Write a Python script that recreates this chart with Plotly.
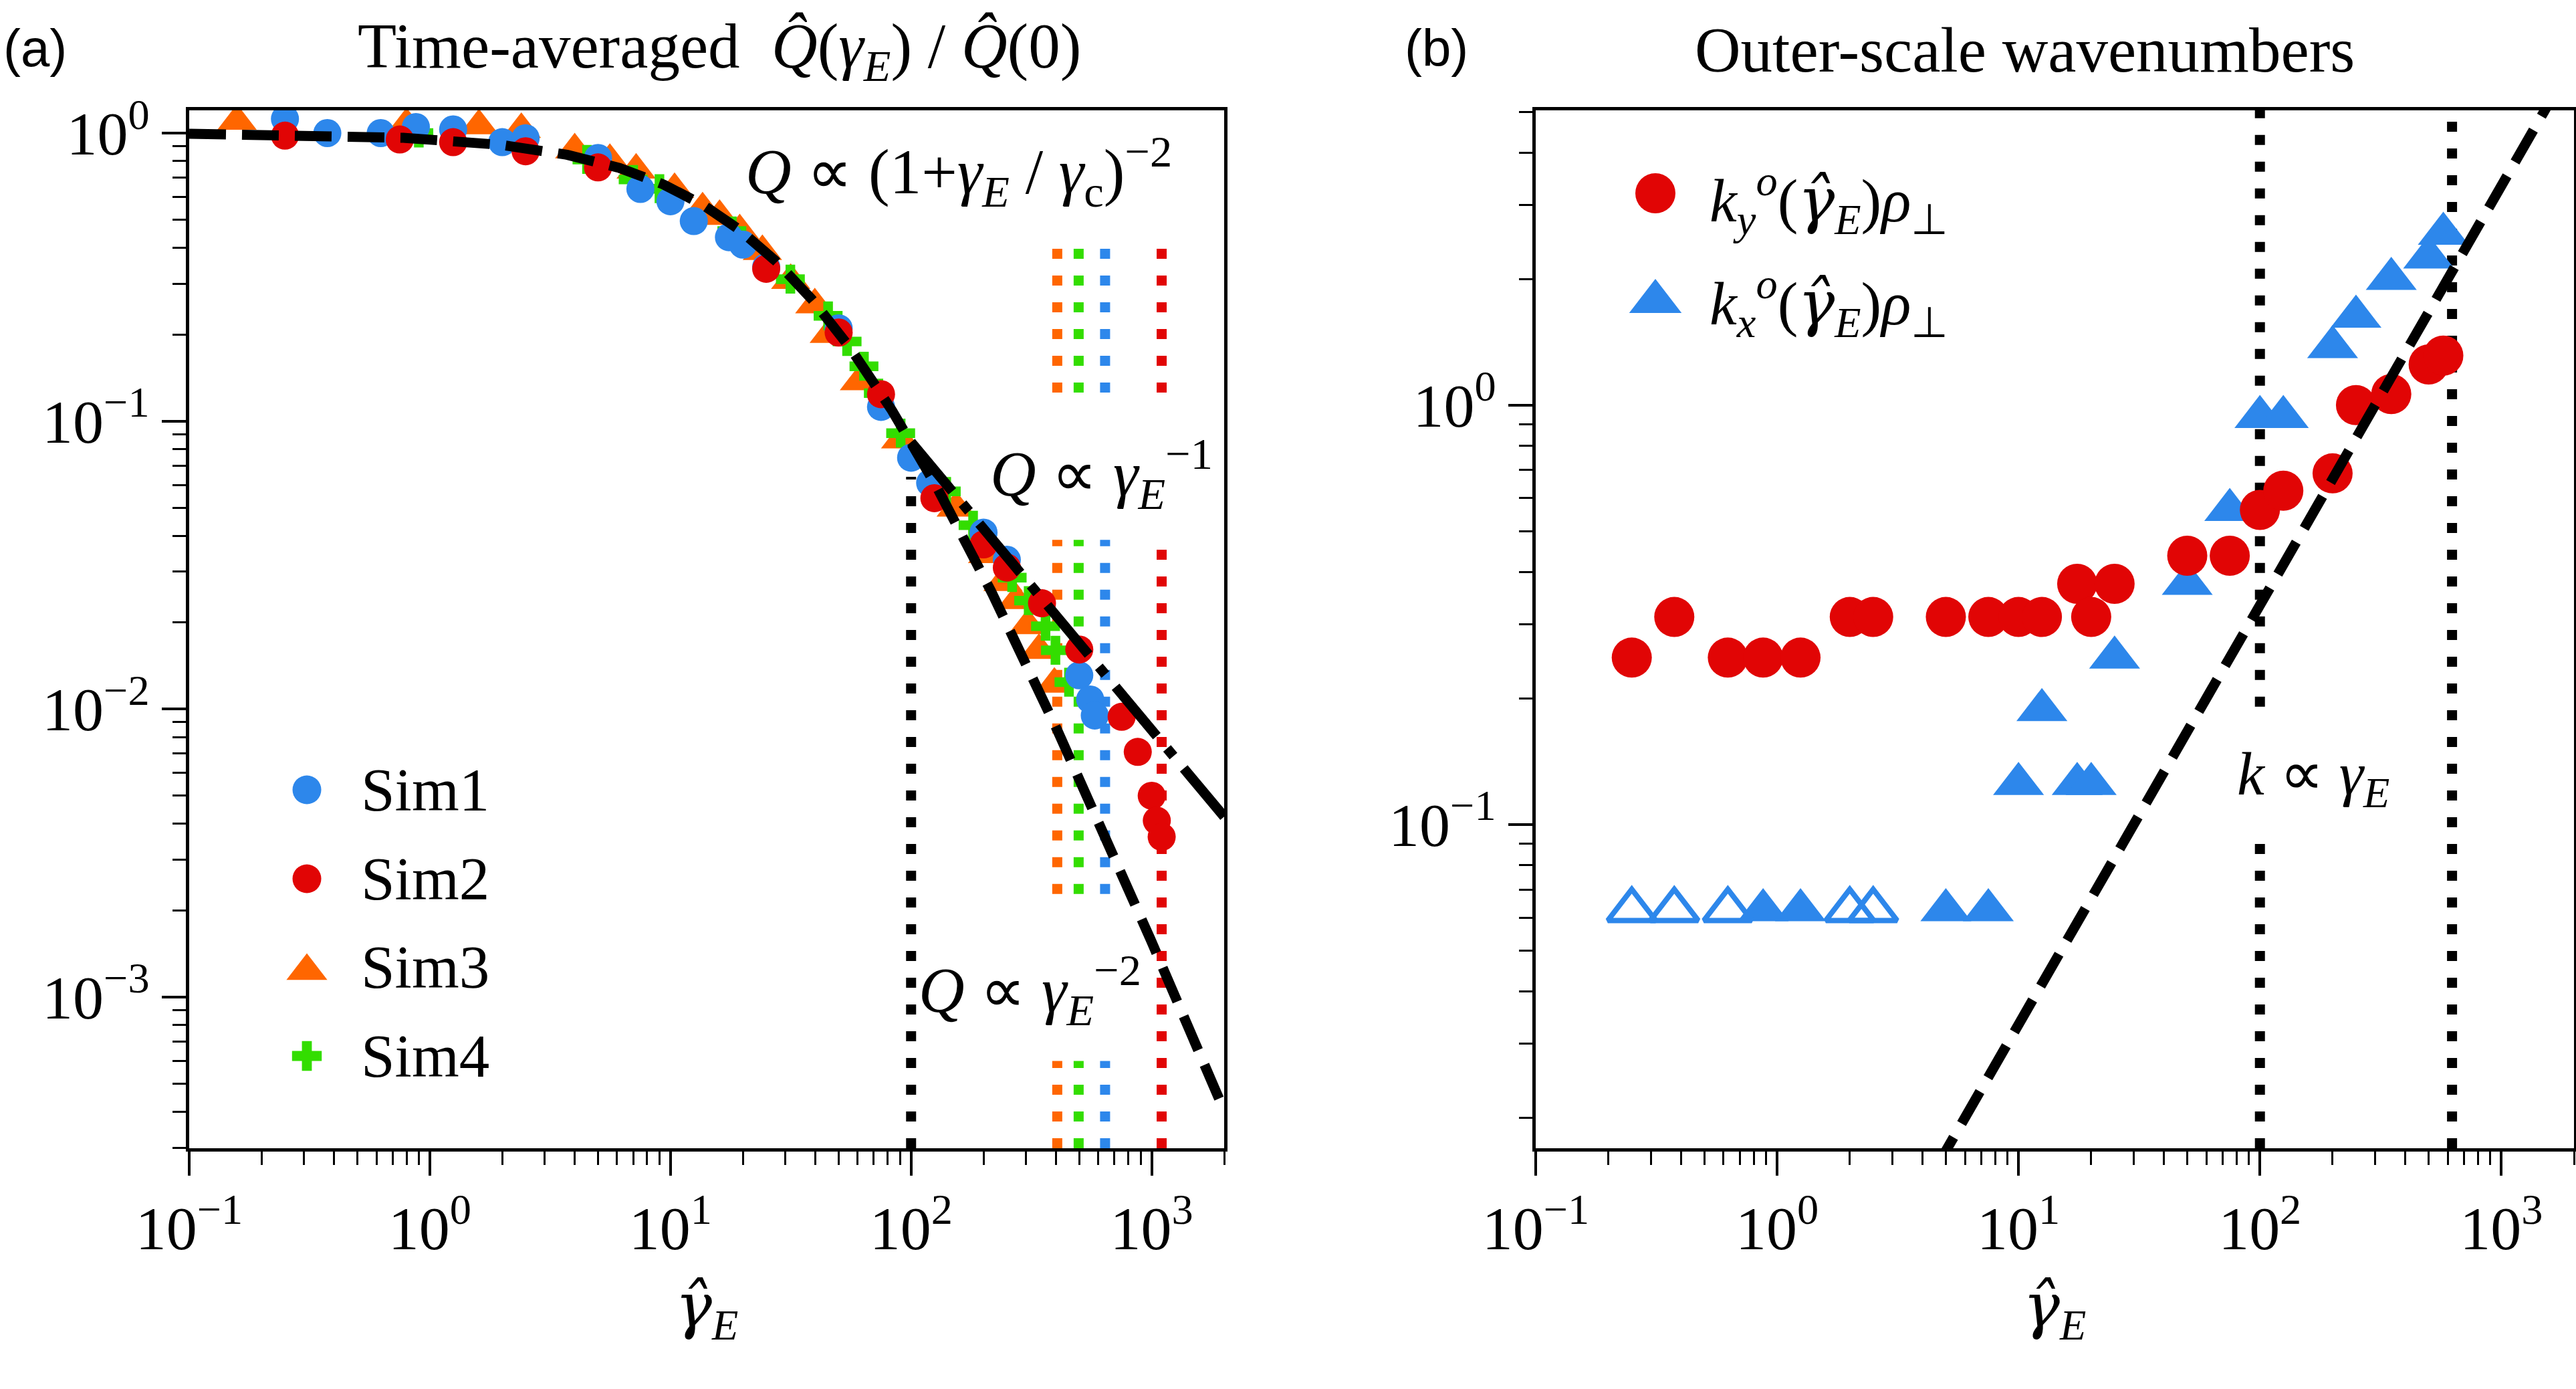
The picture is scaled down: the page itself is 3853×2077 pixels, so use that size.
import numpy as np
import plotly.graph_objects as go

W, H = 3853, 2077

# ---------------- panel (a): time-averaged Q(gamma_E)/Q(0) ----------------
sim1_gamma = [0.25, 0.375, 0.625, 0.875, 1.25, 2.0, 2.5, 5.0, 7.5, 10, 12.5, 17.5, 20, 25,
              50, 75, 100, 120, 200, 250, 500, 555, 580]
sim1_q = [1.12, 1.0, 1.0, 1.05, 1.03, 0.93, 0.96, 0.82, 0.64, 0.58, 0.495, 0.435, 0.41, 0.343,
          0.21, 0.112, 0.0746, 0.061, 0.041, 0.033, 0.0131, 0.0108, 0.0095]

sim2_gamma = [0.25, 0.75, 1.25, 2.5, 5.0, 25, 50, 75, 125, 200, 250, 350, 500, 750, 875,
              1000, 1050, 1100]
sim2_q = [0.98, 0.95, 0.93, 0.865, 0.76, 0.338, 0.203, 0.124, 0.054, 0.0373, 0.031, 0.0233,
          0.0161, 0.0094, 0.0071, 0.0050, 0.0041, 0.0036]

sim3_gamma = [0.158, 0.8, 1.6, 2.4, 4.0, 5.6, 7.2, 10.4, 13.6, 16.0, 19.4, 24.1, 31.6, 39.8,
              45.7, 61, 90.5, 154, 208, 241, 274, 306, 340, 394]
sim3_q = [1.10, 1.07, 1.06, 1.03, 0.875, 0.804, 0.744, 0.637, 0.546, 0.514, 0.458, 0.388,
          0.308, 0.2535, 0.20, 0.137, 0.086, 0.0499, 0.0344, 0.0275, 0.0238, 0.0195, 0.016,
          0.0122]

sim4_gamma = [0.9, 4.5, 7.0, 9.0, 18, 31.5, 45.2, 54.2, 63.7, 73.1, 90.5, 140, 181, 263, 308,
              362, 398, 453]
sim4_q = [1.0, 0.81, 0.69, 0.641, 0.457, 0.311, 0.232, 0.189, 0.155, 0.125, 0.0908, 0.057,
          0.0435, 0.0286, 0.0238, 0.0194, 0.016, 0.0124]

# model curves: Q ~ (1+g/gc)^-2 and Q ~ g^-1 beyond the break
gamma_c = 41.0
gamma_break = 100.0
gamma_max_a = 2000.0
# per-simulation critical shear (dotted verticals): Sim3, Sim4, Sim1, Sim2
gamma_crit = [405, 497, 640, 1100]
# visible spans of the coloured verticals (Q values)
span_top = (0.446, 0.1256)
span_mid = (0.0387, 0.00228)
span_bot = (6.0e-4, None)
black_line_top = 0.064

# ---------------- panel (b): outer-scale wavenumbers ----------------
gamma_b = [0.25, 0.375, 0.625, 0.875, 1.25, 2.0, 2.5, 5.0, 7.5, 10, 12.5, 17.5, 20, 25, 50,
           75, 100, 125, 200, 250, 350, 500, 575]
ky = [0.25, 0.3125, 0.25, 0.25, 0.25, 0.3125, 0.3125, 0.3125, 0.3125, 0.3125, 0.3125, 0.375,
      0.3125, 0.375, 0.4375, 0.4375, 0.5625, 0.625, 0.6875, 1.0, 1.0625, 1.25, 1.3125]
kx = [0.0625, 0.0625, 0.0625, 0.0625, 0.0625, 0.0625, 0.0625, 0.0625, 0.0625, 0.125, 0.1875,
      0.125, 0.125, 0.25, 0.375, 0.5625, 0.9375, 0.9375, 1.375, 1.625, 2.0, 2.25, 2.5625]
kx_unresolved = [1, 1, 1, 0, 0, 1, 1, 0, 0, 0, 0, 0, 0, 0, 0, 0, 0, 0, 0, 0, 0, 0, 0]
k_coeff = 1.0 / 300.0
gamma_lines_b = [100, 625]
gap_b = (0.0919, 0.191)

# ---------------- style ----------------
C_BLUE = "#2D87EB"
C_RED = "#E10505"
C_ORANGE = "#FF6600"
C_GREEN = "#33DD00"
SERIF = "Liberation Serif"
SANS = "Liberation Sans"
FS = 92
FS_TITLE = 95
LW = 15
DASH = "55px,24px"
DASHDOT = "96px,24px,15px,24px"
DOT = "15px,25px"
GHAT = "<span style='font-family:DejaVu Serif'><i>γ̂</i></span>"

XR = [-1, np.log10(2000)]
YRA = [-3.525, 0.079]
YRB = [-1.772, 0.703]
PA = (283, 1831)
PB = (2297, 3850)
PY = (165, 1717)

fig = go.Figure()

# ---- panel (a) dotted verticals (below markers)
ymin_a = 10 ** YRA[0]
ymax_b = 10 ** YRB[1]
ymin_b = 10 ** YRB[0]
cols_crit = [C_ORANGE, C_GREEN, C_BLUE, C_RED]
for g, c in zip(gamma_crit, cols_crit):
    if c == C_RED:
        spans = [span_top, (span_mid[0], ymin_a)]
    else:
        spans = [span_top, span_mid, (span_bot[0], ymin_a)]
    xs, ys = [], []
    for (y0, y1) in spans:
        xs += [g, g, None]
        ys += [y1, y0, None]
    fig.add_trace(go.Scatter(x=xs, y=ys, mode="lines", xaxis="x", yaxis="y",
                             line=dict(color=c, width=LW, dash=DOT), hoverinfo="skip"))
fig.add_trace(go.Scatter(x=[gamma_break, gamma_break], y=[ymin_a, black_line_top], mode="lines",
                         xaxis="x", yaxis="y", line=dict(color="black", width=LW, dash=DOT)))

# ---- panel (a) markers
fig.add_trace(go.Scatter(x=sim3_gamma, y=sim3_q, mode="markers", xaxis="x", yaxis="y",
                         marker=dict(symbol="triangle-up", size=51, color=C_ORANGE, line=dict(width=0))))
fig.add_trace(go.Scatter(x=sim4_gamma, y=sim4_q, mode="markers", xaxis="x", yaxis="y",
                         marker=dict(symbol="cross", size=36, color=C_GREEN, line=dict(width=0))))
fig.add_trace(go.Scatter(x=sim1_gamma, y=sim1_q, mode="markers", xaxis="x", yaxis="y",
                         marker=dict(symbol="circle", size=42, color=C_BLUE, line=dict(width=0))))
fig.add_trace(go.Scatter(x=sim2_gamma, y=sim2_q, mode="markers", xaxis="x", yaxis="y",
                         marker=dict(symbol="circle", size=42, color=C_RED, line=dict(width=0))))

# ---- panel (a) model lines
g_fit = np.logspace(XR[0], np.log10(gamma_max_a), 600)
q_fit = (1 + g_fit / gamma_c) ** -2
fig.add_trace(go.Scatter(x=g_fit, y=q_fit, mode="lines", xaxis="x", yaxis="y",
                         line=dict(color="black", width=LW, dash=DASH)))
g_pow = np.logspace(np.log10(gamma_break), np.log10(gamma_max_a), 100)
q_pow = (1 + gamma_break / gamma_c) ** -2 * gamma_break / g_pow
fig.add_trace(go.Scatter(x=g_pow, y=q_pow, mode="lines", xaxis="x", yaxis="y",
                         line=dict(color="black", width=LW, dash=DASHDOT)))

# ---- panel (b) dotted verticals
g0 = gamma_lines_b[0]
fig.add_trace(go.Scatter(x=[g0, g0, None, g0, g0], y=[ymin_b, gap_b[0], None, gap_b[1], ymax_b],
                         mode="lines", xaxis="x2", yaxis="y2",
                         line=dict(color="black", width=LW, dash=DOT)))
g1 = gamma_lines_b[1]
fig.add_trace(go.Scatter(x=[g1, g1], y=[ymin_b, ymax_b], mode="lines", xaxis="x2", yaxis="y2",
                         line=dict(color="black", width=LW, dash=DOT)))

# ---- panel (b) markers
gb = np.array(gamma_b)
kxa = np.array(kx)
unres = np.array(kx_unresolved) == 1
fig.add_trace(go.Scatter(x=gb[~unres], y=kxa[~unres], mode="markers", xaxis="x2", yaxis="y2",
                         marker=dict(symbol="triangle-up", size=66, color=C_BLUE, line=dict(width=0))))
fig.add_trace(go.Scatter(x=gb[unres], y=kxa[unres], mode="markers", xaxis="x2", yaxis="y2",
                         marker=dict(symbol="triangle-up-open", size=62, color=C_BLUE,
                                     line=dict(width=8, color=C_BLUE))))
fig.add_trace(go.Scatter(x=gamma_b, y=ky, mode="markers", xaxis="x2", yaxis="y2",
                         marker=dict(symbol="circle", size=60, color=C_RED, line=dict(width=0))))

g_k = np.logspace(0, 3.5, 60)
fig.add_trace(go.Scatter(x=g_k, y=k_coeff * g_k, mode="lines", xaxis="x2", yaxis="y2",
                         line=dict(color="black", width=LW, dash=DASH)))

# ---- custom legends (pixel-space overlay axis)
leg_a_y = [1181, 1314, 1446, 1579]
leg_a_x = 459
fig.add_trace(go.Scatter(x=[leg_a_x] * 2, y=leg_a_y[:2], mode="markers", xaxis="x3", yaxis="y3",
                         marker=dict(symbol="circle", size=43, color=[C_BLUE, C_RED], line=dict(width=0))))
fig.add_trace(go.Scatter(x=[leg_a_x], y=[leg_a_y[2] + 6], mode="markers", xaxis="x3", yaxis="y3",
                         marker=dict(symbol="triangle-up", size=53, color=C_ORANGE, line=dict(width=0))))
fig.add_trace(go.Scatter(x=[leg_a_x], y=[leg_a_y[3]], mode="markers", xaxis="x3", yaxis="y3",
                         marker=dict(symbol="cross", size=37, color=C_GREEN, line=dict(width=0))))
leg_b_x = 2476
leg_b_y = [289, 443]
fig.add_trace(go.Scatter(x=[leg_b_x], y=[leg_b_y[0]], mode="markers", xaxis="x3", yaxis="y3",
                         marker=dict(symbol="circle", size=60, color=C_RED, line=dict(width=0))))
fig.add_trace(go.Scatter(x=[leg_b_x], y=[leg_b_y[1] + 8], mode="markers", xaxis="x3", yaxis="y3",
                         marker=dict(symbol="triangle-up", size=68, color=C_BLUE, line=dict(width=0))))

ann = []


def txt(x, y, s, size=FS, xanchor="center", family=SERIF):
    ann.append(dict(x=x, y=y, xref="x3", yref="y3", text=s, showarrow=False, xanchor=xanchor,
                    yanchor="middle", font=dict(family=family, size=size, color="black")))


sim_labels = ["Sim1", "Sim2", "Sim3", "Sim4"]
for yy, lab in zip(leg_a_y, sim_labels):
    txt(538, yy, lab, size=91, xanchor="left")
txt(2555, leg_b_y[0] + 10,
    "<i>k</i><sub><i>y</i></sub><sup><i>o</i></sup>(" + GHAT + "<sub><i>E</i></sub>)<i>ρ</i><sub>⊥</sub>",
    xanchor="left")
txt(2555, leg_b_y[1] + 10,
    "<i>k</i><sub><i>x</i></sub><sup><i>o</i></sup>(" + GHAT + "<sub><i>E</i></sub>)<i>ρ</i><sub>⊥</sub>",
    xanchor="left")

txt(52, 72, "(a)", size=78, family=SANS)
txt(2148, 72, "(b)", size=78, family=SANS)
txt(1076, 75, "Time-averaged  <i>Q̂</i>(<i>γ</i><sub><i>E</i></sub>) / <i>Q̂</i>(0)", size=FS_TITLE)
txt(3028, 75, "Outer-scale wavenumbers", size=FS_TITLE)
txt(1434, 256, "<i>Q</i> ∝ (1+<i>γ</i><sub><i>E</i></sub> / <i>γ</i><sub>c</sub>)<sup>−2</sup>",
    size=95)
txt(1647, 708, "<i>Q</i> ∝ <i>γ</i><sub><i>E</i></sub><sup>−1</sup>", size=95)
txt(1540, 1480, "<i>Q</i> ∝ <i>γ</i><sub><i>E</i></sub><sup>−2</sup>", size=95)
txt(3460, 1163, "<i>k</i> ∝ <i>γ</i><sub><i>E</i></sub>")
txt(1057, 1958, GHAT + "<sub><i>E</i></sub>")
txt(3073, 1958, GHAT + "<sub><i>E</i></sub>")

# ---- axes
x_major = [0.1, 1, 10, 100, 1000]
x_labels = ["10<sup>−1</sup>", "10<sup>0</sup>", "10<sup>1</sup>", "10<sup>2</sup>", "10<sup>3</sup>"]
ya_major = [1e-3, 1e-2, 1e-1, 1]
ya_labels = ["10<sup>−3</sup>", "10<sup>−2</sup>", "10<sup>−1</sup>", "10<sup>0</sup>"]
yb_major = [0.1, 1]
yb_labels = ["10<sup>−1</sup>", "10<sup>0</sup>"]


def minors(lo, hi):
    out = []
    for e in range(lo, hi + 1):
        for m in range(2, 10):
            out.append(m * 10.0 ** e)
    return out


common = dict(type="log", showline=True, linewidth=5, linecolor="black", mirror=True,
              showgrid=False, zeroline=False, ticks="outside", ticklen=36, tickwidth=4,
              tickcolor="black", tickmode="array", automargin=False,
              tickfont=dict(family=SERIF, size=FS, color="black"))


def minor_cfg(vals):
    return dict(tickmode="array", tickvals=vals, ticks="outside", ticklen=20, tickwidth=3,
                tickcolor="black", showgrid=False)


fig.update_layout(
    template="none",
    width=W, height=H, margin=dict(l=0, r=0, t=0, b=0, autoexpand=False),
    paper_bgcolor="white", plot_bgcolor="rgba(0,0,0,0)", showlegend=False,
    xaxis=dict(range=XR, domain=[PA[0] / W, PA[1] / W], anchor="y", tickvals=x_major,
               ticktext=x_labels, minor=minor_cfg(minors(-1, 3)), **common),
    yaxis=dict(range=YRA, domain=[1 - PY[1] / H, 1 - PY[0] / H], anchor="x", tickvals=ya_major,
               ticktext=ya_labels, minor=minor_cfg(minors(-4, 0)), **common),
    xaxis2=dict(range=XR, domain=[PB[0] / W, PB[1] / W], anchor="y2", tickvals=x_major,
                ticktext=x_labels, minor=minor_cfg(minors(-1, 3)), **common),
    yaxis2=dict(range=YRB, domain=[1 - PY[1] / H, 1 - PY[0] / H], anchor="x2", tickvals=yb_major,
                ticktext=yb_labels, minor=minor_cfg(minors(-2, 0)), **common),
    xaxis3=dict(domain=[0, 1], range=[0, W], visible=False, anchor="y3", fixedrange=True,
                automargin=False),
    yaxis3=dict(domain=[0, 1], range=[H, 0], visible=False, anchor="x3", fixedrange=True,
                automargin=False),
    annotations=ann,
)

fig.write_html("out.html")
